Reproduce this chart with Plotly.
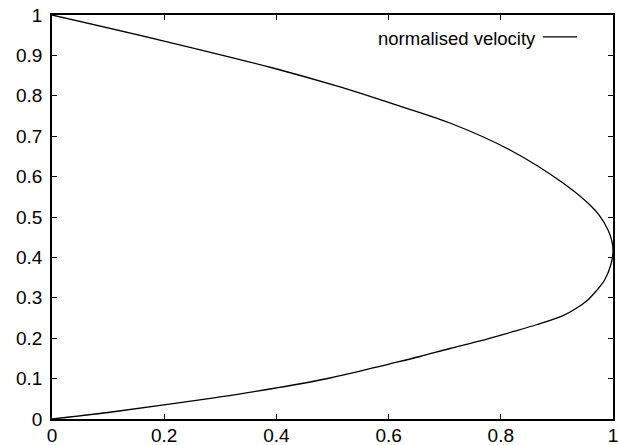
import plotly.graph_objects as go

# Velocity profile (x = normalised velocity, y = position)
vel = [0.0, 0.1996, 0.3939, 0.5134, 0.6025, 0.7094, 0.8164, 0.9109, 0.9590, 0.975, 0.9911, 0.9976,
       1.0,
       0.996, 0.985, 0.970, 0.955, 0.934, 0.9109, 0.865, 0.8164, 0.7629, 0.7094, 0.6560,
       0.6007, 0.4955, 0.3993, 0.2995, 0.1996, 0.0998, 0.0]
pos = [1.0, 0.9356, 0.8688, 0.8218, 0.7822, 0.7327, 0.6658, 0.5842, 0.5297, 0.5050, 0.4678, 0.443,
       0.416,
       0.3812, 0.3441, 0.3168, 0.2946, 0.2735, 0.2560, 0.2339, 0.2141, 0.1931, 0.1745, 0.1547,
       0.1361, 0.1015, 0.0767, 0.0545, 0.0347, 0.0161, 0.0]

x_ticks = [0, 0.2, 0.4, 0.6, 0.8, 1]
x_tick_text = ["0", "0.2", "0.4", "0.6", "0.8", "1"]
y_ticks = [0, 0.1, 0.2, 0.3, 0.4, 0.5, 0.6, 0.7, 0.8, 0.9, 1]
y_tick_text = ["0", "0.1", "0.2", "0.3", "0.4", "0.5", "0.6", "0.7", "0.8", "0.9", "1"]
legend_label = "normalised velocity"

FAM = "Liberation Sans, Arial, sans-serif"
TICKFONT = dict(family=FAM, size=19, color="black")
KEYFONT = dict(family=FAM, size=18.5, color="black")

fig = go.Figure()
fig.add_trace(go.Scatter(x=vel, y=pos, mode="lines",
                         line=dict(color="black", width=1.3, shape="spline", smoothing=1.0),
                         cliponaxis=False, showlegend=False, name=legend_label))

axis_common = dict(showgrid=False, zeroline=False, showline=True, linecolor="black", linewidth=1.5,
                   mirror="ticks", ticks="inside", ticklen=5, tickwidth=1, tickcolor="black",
                   tickfont=TICKFONT, automargin=False)
fig.update_xaxes(range=[0, 1], tickvals=x_ticks, ticktext=x_tick_text, ticklabelstandoff=-2, **axis_common)
fig.update_yaxes(range=[0, 1], tickvals=y_ticks, ticktext=y_tick_text, ticklabelstandoff=4, **axis_common)

# gnuplot-style key: text then line sample on the right
fig.add_annotation(xref="paper", yref="paper", x=0.866, y=0.943, xanchor="right", yanchor="middle",
                   text=legend_label, showarrow=False, font=KEYFONT)
fig.add_shape(type="line", xref="paper", yref="paper", x0=0.875, x1=0.936, y0=0.946, y1=0.946,
              line=dict(color="black", width=1.3))

fig.update_layout(width=619, height=445, margin=dict(l=52, r=6, t=15, b=26),
                  paper_bgcolor="white", plot_bgcolor="white", font=TICKFONT)
fig.write_html("out.html", config={"displayModeBar": False},
               post_script="document.body.style.margin='0';document.body.style.overflow='hidden';")
